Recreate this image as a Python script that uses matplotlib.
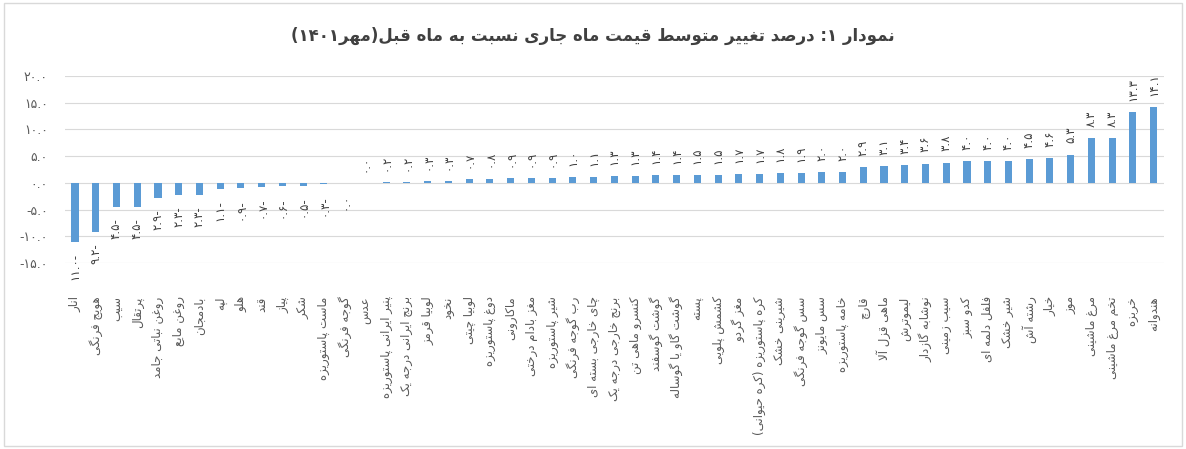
import re
import numpy as np
import matplotlib
matplotlib.use('Agg')
import matplotlib.pyplot as plt
from matplotlib.patches import Rectangle

# chart data
title = 'نمودار ۱: درصد تغییر متوسط قیمت ماه جاری نسبت به ماه قبل(مهر۱۴۰۱)'

items = [
    'انار', 'هویج فرنگی', 'سیب', 'پرتقال', 'روغن نباتی جامد', 'روغن مایع',
    'بادمجان', 'لپه', 'هلو', 'قند', 'پیاز', 'شکر', 'ماست پاستوریزه',
    'گوجه فرنگی', 'عدس', 'پنیر ایرانی پاستوریزه', 'برنج ایرانی درجه یک',
    'لوبیا قرمز', 'نخود', 'لوبیا چیتی', 'دوغ پاستوریزه', 'ماکارونی',
    'مغز بادام درختی', 'شیر پاستوریزه', 'رب گوجه فرنگی', 'چای خارجی بسته ای',
    'برنج خارجی درجه یک', 'کنسرو ماهی تن', 'گوشت گوسفند', 'گوشت گاو یا گوساله',
    'پسته', 'کشمش پلویی', 'مغز گردو', 'کره پاستوریزه (کره حیوانی)',
    'شیرینی خشک', 'سس گوجه فرنگی', 'سس مایونز', 'خامه پاستوریزه', 'قارچ',
    'ماهی قزل آلا', 'لیموترش', 'نوشابه گازدار', 'سیب زمینی', 'کدو سبز',
    'فلفل دلمه ای', 'شیر خشک', 'رشته آش', 'خیار', 'موز', 'مرغ ماشینی',
    'تخم مرغ ماشینی', 'خربزه', 'هندوانه',
]

values = [
    -11.0, -9.2, -4.5, -4.5, -2.9, -2.3, -2.3, -1.1, -0.9, -0.7, -0.6, -0.5, -0.3,
    -0.0, 0.0, 0.2, 0.2, 0.3, 0.3, 0.7, 0.8, 0.9, 0.9, 0.9, 1.0, 1.1, 1.3, 1.3,
    1.4, 1.4, 1.5, 1.5, 1.7, 1.7, 1.8, 1.9, 2.0, 2.0, 2.9, 3.1, 3.4, 3.6, 3.8,
    4.0, 4.0, 4.0, 4.5, 4.6, 5.3, 8.3, 8.3, 13.3, 14.1,
]

yticks = [-15, -10, -5, 0, 5, 10, 15, 20]

# --- minimal persian shaping (matplotlib has no arabic text layout) ---
DUAL = {'ب': 0xFE8F, 'پ': 0xFB56, 'ت': 0xFE95, 'ث': 0xFE99, 'ج': 0xFE9D,
        'چ': 0xFB7A, 'ح': 0xFEA1, 'خ': 0xFEA5, 'س': 0xFEB1, 'ش': 0xFEB5,
        'ص': 0xFEB9, 'ض': 0xFEBD, 'ط': 0xFEC1, 'ظ': 0xFEC5, 'ع': 0xFEC9,
        'غ': 0xFECD, 'ف': 0xFED1, 'ق': 0xFED5, 'ک': 0xFB8E, 'گ': 0xFB92,
        'ل': 0xFEDD, 'م': 0xFEE1, 'ن': 0xFEE5, 'ه': 0xFEE9, 'ی': 0xFBFC}
RIGHT = {'ا': 0xFE8D, 'آ': 0xFE81, 'د': 0xFEA9, 'ذ': 0xFEAB, 'ر': 0xFEAD,
         'ز': 0xFEAF, 'ژ': 0xFB8A, 'و': 0xFEED}
LAMALEF = {'ا': (0xFEFB, 0xFEFC), 'آ': (0xFEF5, 0xFEF6)}
FA_DIGITS = str.maketrans('0123456789', '۰۱۲۳۴۵۶۷۸۹')


def shape(s):
    out = []
    i = 0
    while i < len(s):
        ch = s[i]
        prev = s[i - 1] if i > 0 else ''
        nxt = s[i + 1] if i + 1 < len(s) else ''
        join_prev = prev in DUAL
        if ch == 'ل' and nxt in LAMALEF:
            out.append(chr(LAMALEF[nxt][1 if join_prev else 0]))
            i += 2
            continue
        if ch in DUAL:
            join_next = nxt in DUAL or nxt in RIGHT
            form = {(0, 0): 0, (1, 0): 1, (0, 1): 2, (1, 1): 3}[(join_prev, join_next)]
            out.append(chr(DUAL[ch] + form))
        elif ch in RIGHT:
            out.append(chr(RIGHT[ch] + (1 if join_prev else 0)))
        else:
            out.append(ch)
        i += 1
    return ''.join(out)


def visual(s):
    # reverse to visual order, keep number runs left-to-right
    parts = re.split(r'([۰-۹]+(?:\.[۰-۹]+)?)', shape(s))
    res = []
    for p in reversed(parts):
        if re.fullmatch(r'[۰-۹]+(?:\.[۰-۹]+)?', p):
            res.append(p)
        else:
            res.append(p[::-1].translate(str.maketrans('()', ')(')))
    return ''.join(res)


def fa_num(v):
    txt = f'{abs(v):.1f}'.translate(FA_DIGITS)
    return txt + '-' if v < 0 else txt


plt.rcParams['font.family'] = ['DejaVu Sans']

fig = plt.figure(figsize=(11.86, 4.49), dpi=100)
ax = fig.add_axes([0.0545, 0.4143, 0.927, 0.4165])

x = np.arange(len(items))
ax.bar(x, values, width=0.34, color='#5B9BD5', zorder=2)

for xi, v in zip(x, values):
    below = np.signbit(v)
    ax.annotate(fa_num(v), (xi, v), xytext=(0, -8 if below else 8),
                textcoords='offset points', rotation=90, ha='center',
                va='top' if below else 'bottom', fontsize=8.5, color='#404040')

ax.set_xlim(-0.5, len(items) - 0.5)
ax.set_ylim(-15, 20)
ax.set_yticks(yticks)
ax.set_yticklabels([f'{t:.1f}'.translate(FA_DIGITS) for t in yticks],
                   fontsize=9, color='#595959')
ax.set_xticks(x)
ax.set_xticklabels([visual(c) for c in items], rotation=90, ha='center',
                   va='top', fontsize=8.5, color='#595959')
ax.tick_params(axis='both', length=0)
ax.tick_params(axis='x', pad=24)
ax.tick_params(axis='y', pad=12)

ax.yaxis.grid(True, color='#D9D9D9', linewidth=0.8)
ax.set_axisbelow(True)
for sp in ax.spines.values():
    sp.set_visible(False)

fig.text(0.5, 0.92, visual(title), ha='center', va='center', fontsize=12,
         fontweight='bold', color='#404040')

fig.patches.append(Rectangle((0.003, 0.006), 0.994, 0.988, transform=fig.transFigure,
                             fill=False, edgecolor='#D9D9D9', linewidth=1))

fig.savefig('out.png', dpi=100)
